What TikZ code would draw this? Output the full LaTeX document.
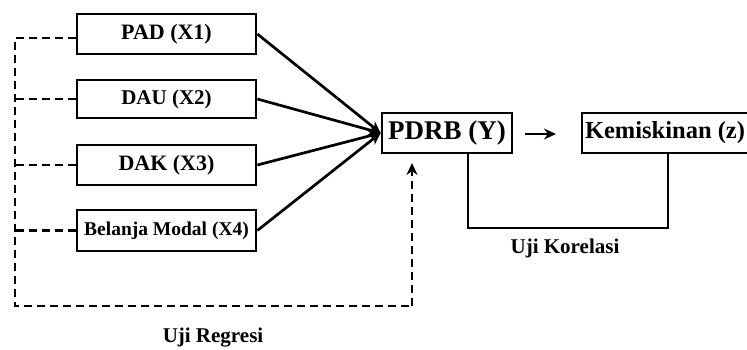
\documentclass[tikz,border=0pt]{standalone}
\usepackage{fontspec}
\setmainfont{Liberation Serif}
\usetikzlibrary{arrows.meta,calc}
\begin{document}
\begin{tikzpicture}[x=1pt,y=-1pt,
  box/.style={draw,line width=2.7pt,inner sep=0pt,font=\bfseries},
  conn/.style={line width=2.7pt},
  dsh/.style={line width=2.7pt,dash pattern=on 8pt off 5pt},
  tip/.style={-{Stealth[length=12pt,width=11pt]}}]
\useasboundingbox (0,0) rectangle (747,349);
\node[box,minimum width=179pt,minimum height=40pt,font=\bfseries\fontsize{22}{22}\selectfont] (pad) at (166.5,34) {PAD (X1)};
\node[box,minimum width=179pt,minimum height=38pt,font=\bfseries\fontsize{21}{21}\selectfont] (dau) at (166.5,99) {DAU (X2)};
\node[box,minimum width=179pt,minimum height=40pt,font=\bfseries\fontsize{22}{22}\selectfont] (dak) at (166.5,165) {DAK (X3)};
\node[box,minimum width=179pt,minimum height=41pt,font=\bfseries\fontsize{19.5}{19.5}\selectfont] (bm) at (166.5,230.5) {Belanja Modal (X4)};
\node[box,minimum width=130pt,minimum height=40pt,font=\bfseries\fontsize{27}{27}\selectfont] (pdrb) at (447,133) {PDRB (Y)};
\node[box,minimum width=166pt,minimum height=40pt,font=\bfseries\fontsize{24.5}{24.5}\selectfont] (kem) at (665,133) {Kemiskinan (z)};
\foreach \n in {pad,dau,dak,bm}{\draw[conn,tip] (\n.east) -- (pdrb.west);}
\coordinate (a1) at (525,134);
\coordinate (a2) at (556,134);
\draw[conn,tip] (a1) -- (a2);
\coordinate (c1) at (468,228);
\coordinate (c2) at (668,228);
\draw[conn] (pdrb.south -| c1) -- (c1) -- (c2) -- (kem.south -| c2);
\node[font=\bfseries\fontsize{21}{21}\selectfont] (lk) at (565,248) {Uji Korelasi};
\coordinate (l1) at (15,38);
\coordinate (l4) at (15,306);
\coordinate (r4) at (412,306);
\coordinate (rt) at (412,163);
\draw[dsh] (pad.west |- l1) -- (l1) -- (l4) -- (r4);
\draw[dsh,-{Stealth[length=12pt,width=11pt]}] (r4) -- (rt);
\draw[dsh] (dau.west) -- (dau.west -| l1);
\draw[dsh] (dak.west) -- (dak.west -| l1);
\draw[dsh] (bm.west) -- (bm.west -| l1);
\node[font=\bfseries\fontsize{21}{21}\selectfont] (lr) at (213,338) {Uji Regresi};
\end{tikzpicture}
\end{document}
